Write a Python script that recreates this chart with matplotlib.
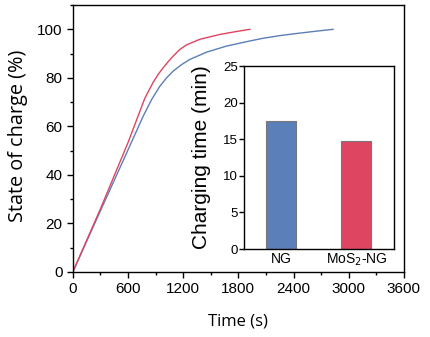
import matplotlib.pyplot as plt
import numpy as np

plt.rcParams['font.family'] = ['Liberation Sans', 'DejaVu Sans']

# charge curves
t_ng = [0, 300, 600, 765, 856, 947, 1020, 1092, 1180, 1273, 1455, 1672,
        1926, 2067, 2250, 2437, 2640, 2830]
soc_ng = [0, 25.2, 50.3, 64.2, 71, 76.6, 80, 82.8, 85.4, 87.6, 90.6, 93.1,
          95.2, 96.3, 97.4, 98.3, 99.2, 100]
t_mos = [0, 300, 600, 783, 874, 930, 983, 1040, 1092, 1160, 1237, 1382, 1600, 1780, 1926]
soc_mos = [0, 26, 53.3, 71.6, 78.2, 81.5, 84.2, 86.8, 89, 91.6, 93.6, 95.9, 97.9, 99.1, 100]

# inset bars
names = ['NG', 'MoS$_2$-NG']
times = [17.5, 14.7]

blue = '#5b7fb8'
red = '#de4560'

fig = plt.figure(figsize=(4.31, 3.37), dpi=100)
ax = fig.add_axes([0.169, 0.193, 0.768, 0.792])
ax.plot(t_ng, soc_ng, color=blue, lw=1)
ax.plot(t_mos, soc_mos, color=red, lw=1)
ax.set_xlim(0, 3600)
ax.set_ylim(0, 110)
ax.set_xticks(np.arange(0, 3601, 600))
ax.set_xticks(np.arange(0, 3601, 300), minor=True)
ax.set_yticks(np.arange(0, 101, 20))
ax.set_yticks(np.arange(0, 111, 10), minor=True)
ax.tick_params(which='major', direction='out', length=4, width=1, labelsize=11)
ax.tick_params(which='minor', direction='out', length=2.5, width=1)
ax.set_xlabel('Time (s)', fontsize=12, family='Open Sans', labelpad=12)
ax.set_ylabel('State of charge (%)', fontsize=14.3, family='Open Sans')
ax.yaxis.set_label_coords(-0.135, 0.51)
for s in ax.spines.values():
    s.set_linewidth(1)

ins = fig.add_axes([0.566, 0.261, 0.348, 0.543])
ins.bar([0, 1], times, width=0.4, color=[blue, red], edgecolor='#777777', linewidth=0.8)
ins.set_xlim(-0.5, 1.5)
ins.set_ylim(0, 25)
ins.set_yticks(np.arange(0, 26, 5))
ins.set_xticks([0, 1])
ins.set_xticklabels(names)
ins.tick_params(axis='y', direction='out', length=3.5, width=1, labelsize=9.5, pad=1)
ins.tick_params(axis='x', length=0, labelsize=10, pad=2)
ins.set_ylabel('Charging time (min)', fontsize=15)
ins.yaxis.set_label_coords(-0.22, 0.5)
for s in ins.spines.values():
    s.set_linewidth(1)

fig.savefig('out.png', dpi=100)
